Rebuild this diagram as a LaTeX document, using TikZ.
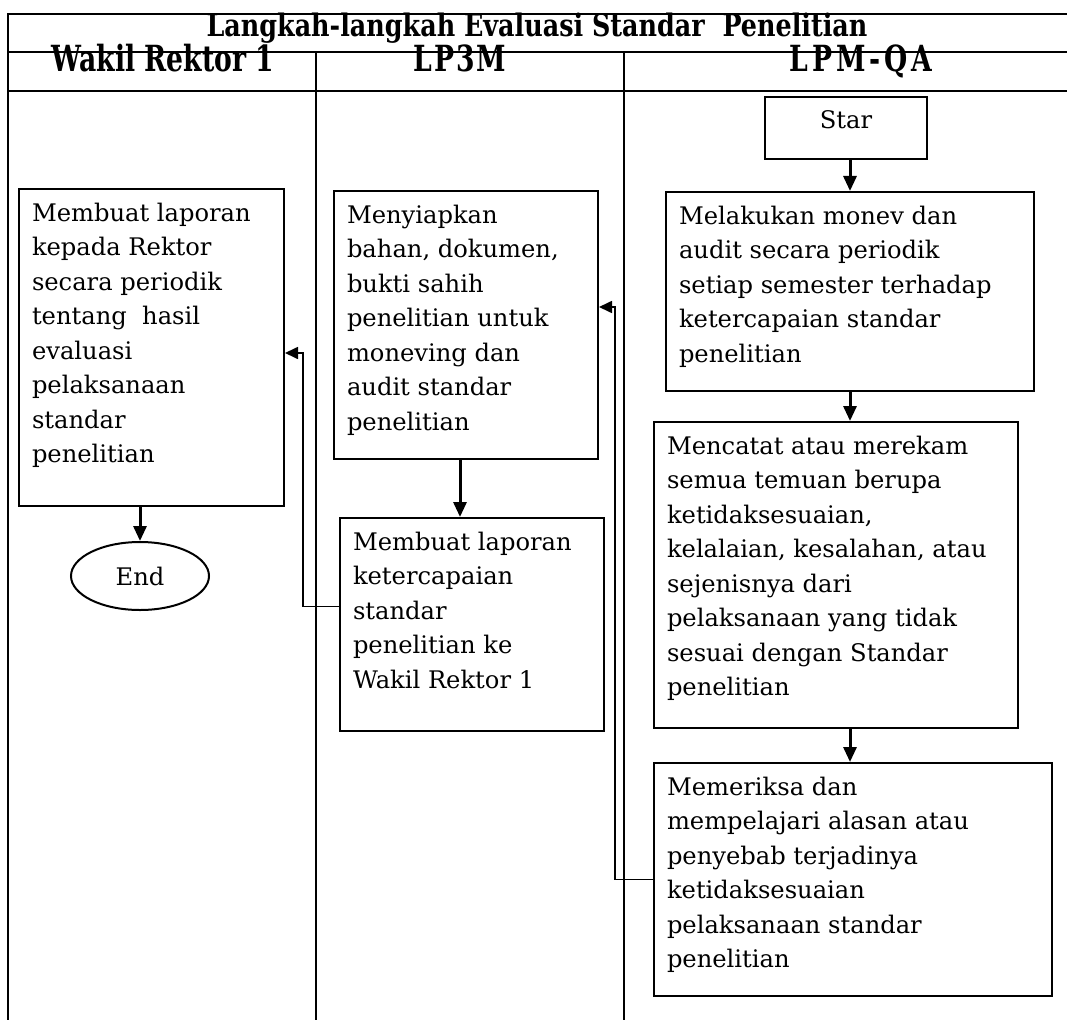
\documentclass[tikz,border=0pt]{standalone}
\usepackage{fontspec}
\setmainfont{DejaVu Serif}
\newfontfamily\headfont[FakeStretch=0.74]{DejaVu Serif}
\newfontfamily\titlefont[FakeStretch=0.82]{DejaVu Serif}
\usetikzlibrary{arrows.meta,shapes.geometric}

\newcommand{\steptext}[3]{\parbox[c][#2pt][t]{#1pt}{#3}}

\begin{document}
\begin{tikzpicture}[x=1pt,y=-1pt,
    lane/.style={line width=1.5pt},
    stepbox/.style={rectangle, draw, line width=2pt, anchor=north west, inner xsep=13pt, inner ysep=14pt, font=\fontsize{24.2}{34.5}\selectfont},
    endbox/.style={ellipse, draw, line width=2pt, minimum width=138pt, minimum height=68pt, inner sep=0pt, font=\fontsize{24.2}{34.5}\selectfont},
    title/.style={anchor=base, font=\titlefont\bfseries\fontsize{31}{31}\selectfont},
    head/.style={anchor=base, font=\headfont\bfseries\fontsize{36}{36}\selectfont},
    flow/.style={-{Triangle[width=13pt,length=15pt]}, line width=3pt},
    link/.style={-{Triangle[width=12pt,length=13pt]}, line width=1.7pt}]

    \useasboundingbox (0,0) rectangle (1067,1019);

    % table frame
    \draw[lane] (1090,14) -- (8,14) -- (8,1025);
    \draw[lane] (8,52) -- (1090,52);
    \draw[lane] (8,91) -- (1090,91);
    \draw[lane] (316,52) -- (316,1025);
    \draw[lane] (624,52) -- (624,1025);

    \node[title] (judul) at (537,37) {Langkah-langkah Evaluasi Standar\ \ Penelitian};
    \node[head] (hwr) at (163,72) {Wakil Rektor 1};
    \node[head] (hlp) at (460,72) {L\kern2pt P\kern2pt 3\kern2pt M};
    \node[head] (hqa) at (861,72) {L\kern4pt P\kern4pt M\kern4pt -\kern4pt Q\kern4pt A};

    % Wakil Rektor 1
    \node[stepbox] (wr) at (18,188) {\steptext{239}{289}{Membuat laporan\\kepada Rektor\\secara periodik\\tentang\ \ hasil\\evaluasi\\pelaksanaan\\standar\\penelitian}};
    \node[endbox] (selesai) at (140,576) {End};

    % LP3M
    \node[stepbox] (prep) at (333,190) {\steptext{238}{240}{Menyiapkan\\bahan, dokumen,\\bukti sahih\\penelitian untuk\\moneving dan\\audit standar\\penelitian}};
    \node[stepbox] (lapor) at (339,517) {\steptext{238}{185}{Membuat laporan\\ketercapaian\\standar\\penelitian ke\\Wakil Rektor 1}};

    % LPM-QA
    \node[stepbox] (star) at (764,96) {\steptext{136}{34}{\centering Star}};
    \node[stepbox] (mon) at (665,191) {\steptext{342}{171}{Melakukan monev dan\\audit secara periodik\\setiap semester terhadap\\ketercapaian standar\\penelitian}};
    \node[stepbox] (rec) at (653,421) {\steptext{338}{278}{Mencatat atau merekam\\semua temuan berupa\\ketidaksesuaian,\\kelalaian, kesalahan, atau\\sejenisnya dari\\pelaksanaan yang tidak\\sesuai dengan Standar\\penelitian}};
    \node[stepbox] (check) at (653,762) {\steptext{372}{205}{Memeriksa dan\\mempelajari alasan atau\\penyebab terjadinya\\ketidaksesuaian\\pelaksanaan standar\\penelitian}};

    \draw[flow] (star.south -| mon.north) -- (mon.north);
    \draw[flow] (mon.south) -- (mon.south |- rec.north);
    \draw[flow] (mon.south |- rec.south) -- (mon.south |- check.north);
    \draw[flow] ([xshift=-6pt]prep.south) -- ([xshift=-6pt]prep.south |- lapor.north);
    \draw[flow] (wr.south -| selesai.north) -- (selesai.north);

    \draw[link] (check.west) -- ++(-38,0) |- ([yshift=18pt]prep.east);
    \draw[link] ([yshift=18pt]lapor.west) -- ++(-36,0) |- ([yshift=-5.5pt]wr.east);
\end{tikzpicture}
\end{document}
